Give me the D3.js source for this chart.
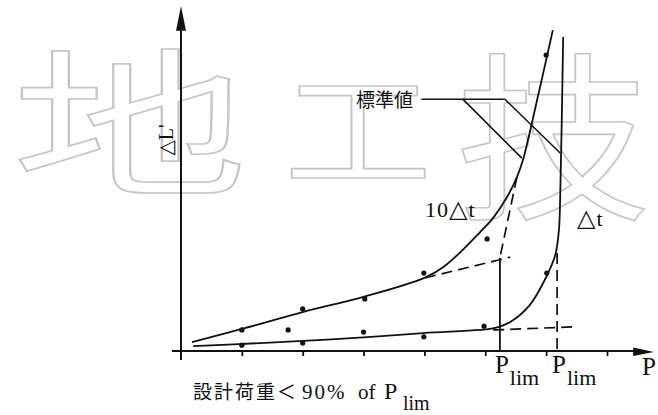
<!DOCTYPE html>
<html>
<head>
<meta charset="utf-8">
<script src="https://cdn.jsdelivr.net/npm/d3@7"></script>
<style>
  body { margin: 0; background: #fff; }
  svg { display: block; }
</style>
</head>
<body>
<script>
// Load P on the horizontal axis, creep displacement ΔL' on the vertical axis (arbitrary units)
const xTicks = [0, 1, 2, 3, 4, 5, 6, 7];

// Creep curve read at 10Δt
const curve10dt = [
  [0.18, 0.26], [1.0, 0.64], [2.0, 1.13], [3.0, 1.57], [4.0, 2.12], [4.3, 2.42],
  [4.63, 2.93], [4.9, 3.42], [5.13, 3.86], [5.37, 4.5], [5.52, 5.04], [5.62, 5.54],
  [5.87, 7.42], [6.11, 9.3]
];
// Creep curve read at Δt
const curveDt = [
  [0.2, 0.14], [1.3, 0.23], [2.61, 0.35], [3.98, 0.52], [4.91, 0.61], [5.16, 0.67],
  [5.41, 0.84], [5.73, 1.33], [6.0, 2.14], [6.15, 2.78], [6.21, 3.51], [6.23, 4.38],
  [6.28, 9.1]
];
// Measured points
const points10dt = [[1.0, 0.61], [2.0, 1.22], [3.02, 1.51], [3.99, 2.26], [5.03, 3.25], [6.0, 8.58]];
const pointsDt = [[1.0, 0.17], [1.76, 0.61], [2.0, 0.23], [3.0, 0.55], [3.99, 0.41], [4.98, 0.72], [6.01, 2.26]];

// Limit loads where the two tangents meet
const plim10dt = 5.24;
const plimDt = 6.18;

// Tangent construction lines
const tangent10Initial = [[4.01, 2.12], [5.41, 2.72]];
const tangent10Steep = [[5.52, 5.04], [plim10dt, 2.70]];
const tangentDtFlat = [[5.13, 0.61], [6.47, 0.70]];
const tangentDtSteep = [[plimDt, 2.84], [plimDt, -0.12]];
const plimLine10 = [[plim10dt, 2.70], [plim10dt, 0]];

// Leader lines for the "標準値" note
const leaderH = [[3.95, 7.30], [5.32, 7.30]];
const leader1 = [[4.63, 7.30], [5.60, 5.59]];
const leader2 = [[5.32, 7.30], [6.23, 5.74]];

const W = 658, H = 415;
const x = d3.scaleLinear().domain([0, 7]).range([181, 607]);
const y = d3.scaleLinear().domain([0, 10]).range([351, 6]);

const svg = d3.select("body").append("svg").attr("width", W).attr("height", H);

const serif = "'Liberation Serif', 'DejaVu Serif', serif";
const cjk = "'Noto Sans CJK JP', 'Noto Sans CJK TC', sans-serif";
const ink = "#111";

// Background watermark: outlined large characters, stretched horizontally
const wm = svg.append("g")
  .attr("fill", "none")
  .attr("stroke", "#c6c6c6")
  .attr("stroke-width", 1.6)
  .attr("font-family", cjk)
  .attr("text-anchor", "middle")
  .attr("dominant-baseline", "central");
[
  { ch: "地", cx: 130, cy: 114, size: 160, w: 236 },
  { ch: "工", cx: 358, cy: 122, size: 125, w: 148 },
  { ch: "技", cx: 553, cy: 126, size: 180, w: 196 }
].forEach(d => {
  wm.append("text")
    .attr("x", d.cx).attr("y", d.cy)
    .attr("font-size", d.size)
    .attr("textLength", d.w)
    .attr("lengthAdjust", "spacingAndGlyphs")
    .text(d.ch);
});

const line = d3.line().x(d => x(d[0])).y(d => y(d[1]));
const smooth = d3.line().x(d => x(d[0])).y(d => y(d[1])).curve(d3.curveCatmullRom.alpha(0.5));

// Axes
const axisG = svg.append("g");
axisG.append("line")
  .attr("x1", x(0)).attr("x2", x(0))
  .attr("y1", y(-0.26)).attr("y2", y(9.3))
  .attr("stroke", ink).attr("stroke-width", 2);
axisG.append("path")
  .attr("d", `M${x(0)},${y(10)} L${x(0) - 5},${y(9.28)} L${x(0) + 5},${y(9.28)} Z`)
  .attr("fill", ink);

axisG.append("line")
  .attr("x1", x(-0.15)).attr("x2", x(7.45))
  .attr("y1", y(0)).attr("y2", y(0))
  .attr("stroke", ink).attr("stroke-width", 2);
axisG.append("path")
  .attr("d", `M${x(7.77)},${y(0) + 1} L${x(7.43)},${y(0) - 3.5} L${x(7.43)},${y(0) + 5} Z`)
  .attr("fill", ink);

const xAxis = d3.axisBottom(x).tickValues(xTicks.slice(1)).tickSize(5).tickSizeOuter(0).tickFormat("");
const xg = svg.append("g").attr("transform", `translate(0,${y(0)})`).call(xAxis);
xg.select(".domain").remove();
xg.selectAll(".tick line").attr("stroke", ink).attr("stroke-width", 1.8);

// Curves
svg.append("path").attr("d", smooth(curve10dt))
  .attr("fill", "none").attr("stroke", ink).attr("stroke-width", 1.8);
svg.append("path").attr("d", smooth(curveDt))
  .attr("fill", "none").attr("stroke", ink).attr("stroke-width", 1.8);

// Tangent construction lines
[tangent10Initial, tangent10Steep, tangentDtFlat, tangentDtSteep].forEach(seg => {
  svg.append("path").attr("d", line(seg))
    .attr("fill", "none").attr("stroke", ink).attr("stroke-width", 1.7)
    .attr("stroke-dasharray", "11,6");
});
svg.append("path").attr("d", line(plimLine10))
  .attr("fill", "none").attr("stroke", ink).attr("stroke-width", 1.8);

// Leader lines
[leaderH, leader1, leader2].forEach(seg => {
  svg.append("path").attr("d", line(seg))
    .attr("fill", "none").attr("stroke", ink).attr("stroke-width", 1.5);
});

// Measured points
svg.append("g").selectAll("circle")
  .data(points10dt.concat(pointsDt))
  .join("circle")
  .attr("cx", d => x(d[0])).attr("cy", d => y(d[1]))
  .attr("r", 2.6).attr("fill", ink);

// Labels
svg.append("text")
  .attr("x", 413).attr("y", 107)
  .attr("text-anchor", "end")
  .attr("font-family", cjk).attr("font-size", 19)
  .attr("fill", ink)
  .text("標準値");

const lab10 = svg.append("text")
  .attr("x", 425).attr("y", 217)
  .attr("font-family", serif).attr("font-size", 22).attr("fill", ink)
  .attr("letter-spacing", 1);
lab10.append("tspan").text("10");
lab10.append("tspan").attr("font-family", "'DejaVu Sans', sans-serif").attr("font-size", 24).text("△");
lab10.append("tspan").text("t");

const labDt = svg.append("text")
  .attr("x", 577).attr("y", 226)
  .attr("font-family", serif).attr("font-size", 22).attr("fill", ink)
  .attr("letter-spacing", 1);
labDt.append("tspan").attr("font-family", "'DejaVu Sans', sans-serif").attr("font-size", 24).text("△");
labDt.append("tspan").text("t");

svg.append("text")
  .attr("transform", "translate(173,140) rotate(-90)")
  .attr("text-anchor", "middle")
  .attr("font-family", serif).attr("font-size", 20).attr("fill", ink)
  .text("△L'");

// P_lim labels under the two limit loads
[plim10dt, plimDt].forEach(v => {
  const t = svg.append("text")
    .attr("x", x(v) - 5).attr("y", 373)
    .attr("font-family", serif).attr("font-size", 25).attr("fill", ink);
  t.append("tspan").text("P");
  t.append("tspan").attr("dy", 12).attr("font-size", 22).attr("dx", 1).text("lim");
});

svg.append("text")
  .attr("x", 642).attr("y", 375)
  .attr("font-family", serif).attr("font-size", 25).attr("fill", ink)
  .text("P");

// Design load note
const note = svg.append("text").attr("y", 399).attr("fill", ink);
note.append("tspan").attr("x", 193)
  .attr("font-family", cjk).attr("font-size", 19).attr("letter-spacing", 2)
  .text("設計荷重＜");
note.append("tspan").attr("x", 302)
  .attr("font-family", serif).attr("font-size", 21).attr("letter-spacing", 2)
  .text("90%");
note.append("tspan").attr("x", 358)
  .attr("font-family", serif).attr("font-size", 21)
  .text("of");
note.append("tspan").attr("x", 384)
  .attr("font-family", serif).attr("font-size", 24)
  .text("P");
note.append("tspan").attr("x", 403).attr("dy", 11)
  .attr("font-family", serif).attr("font-size", 20)
  .text("lim");
</script>
</body>
</html>
